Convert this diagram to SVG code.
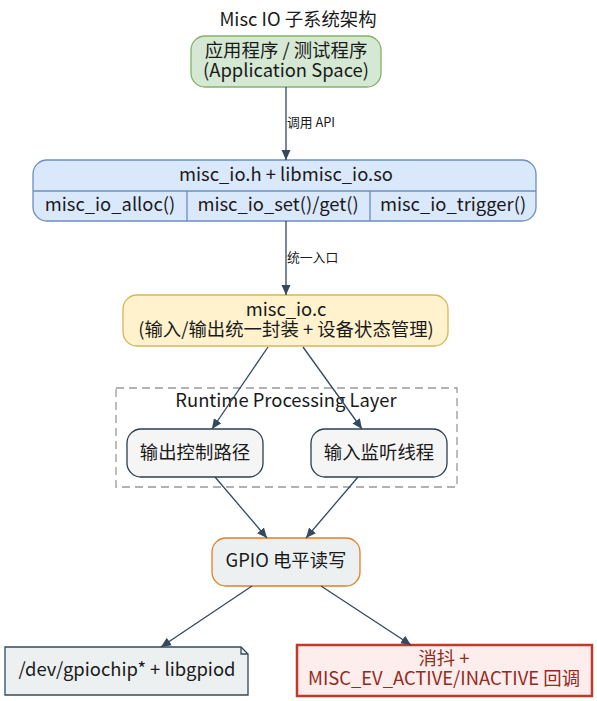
<svg xmlns="http://www.w3.org/2000/svg" width="597" height="701" viewBox="0 0 597 701">
<defs>
<marker id="arr" markerWidth="10" markerHeight="10" refX="10" refY="5" orient="auto" markerUnits="userSpaceOnUse">
<path d="M0,0.5 L10,5 L0,9.5 Z" fill="#34495e"/>
</marker>
<style>
text{font-family:"Noto Sans CJK SC","Noto Sans",sans-serif;text-anchor:middle;fill:#1a1a1a;font-size:18.4px}
.lbl{font-size:12.8px;text-anchor:start}
.red{fill:#922b21}
.edge{stroke:#34495e;stroke-width:1.3;fill:none;marker-end:url(#arr)}
</style>
</defs>
<rect width="597" height="701" fill="#ffffff"/>
<text x="298" y="26">Misc IO 子系统架构</text>

<g id="cluster-runtime">
<rect x="116" y="388" width="341" height="99" fill="none" stroke="#999999" stroke-width="1.3" stroke-dasharray="8,5"/>
<text x="286" y="407">Runtime Processing Layer</text>
</g>

<g id="node-app">
<rect x="191" y="36" width="190" height="51" rx="14" fill="#d5e8d4" stroke="#82b366" stroke-width="1.3"/>
<text x="286" y="57">应用程序 / 测试程序<tspan x="286" dy="20">(Application Space)</tspan></text>
</g>

<g id="node-api">
<rect x="33" y="160" width="503" height="61" rx="14" fill="#dae8fc" stroke="#6c8ebf" stroke-width="1.3"/>
<path d="M33,191 H536 M187,191 V221 M370,191 V221" stroke="#6c8ebf" stroke-width="1.3" fill="none"/>
<text x="286" y="181">misc_io.h + libmisc_io.so</text>
<text x="110" y="211">misc_io_alloc()</text>
<text x="278" y="211">misc_io_set()/get()</text>
<text x="453" y="211">misc_io_trigger()</text>
</g>

<g id="node-core">
<rect x="123" y="295" width="325" height="51" rx="14" fill="#fff2cc" stroke="#d6b656" stroke-width="1.3"/>
<text x="286" y="316">misc_io.c<tspan x="286" dy="20">(输入/输出统一封装 + 设备状态管理)</tspan></text>
</g>

<g id="node-output">
<rect x="127" y="429" width="136" height="48" rx="14" fill="#f5f5f5" stroke="#2c3e50" stroke-width="1.3"/>
<text x="195" y="459">输出控制路径</text>
</g>

<g id="node-input">
<rect x="311" y="429" width="136" height="48" rx="14" fill="#f5f5f5" stroke="#2c3e50" stroke-width="1.3"/>
<text x="379" y="459">输入监听线程</text>
</g>

<g id="node-gpio">
<rect x="212" y="538" width="148" height="48" rx="14" fill="#ecf0f1" stroke="#e67e22" stroke-width="1.3"/>
<text x="286" y="567">GPIO 电平读写</text>
</g>

<g id="node-dev">
<path d="M5,647 H241 L248,654 V695 H5 Z" fill="#ecf0f1" stroke="#34495e" stroke-width="1.3"/>
<path d="M241,647 V654 H248" fill="none" stroke="#34495e" stroke-width="1.3"/>
<text x="127" y="676">/dev/gpiochip* + libgpiod</text>
</g>

<g id="node-callback">
<rect x="297" y="645" width="295" height="51" fill="#fdedec" stroke="#c0392b" stroke-width="2.5"/>
<text class="red" x="444" y="665">消抖 +<tspan x="444" dy="20">MISC_EV_ACTIVE/INACTIVE 回调</tspan></text>
</g>

<g id="connectors">
<path class="edge" d="M286,87 V160"/>
<text class="lbl" x="287" y="127">调用 API</text>
<path class="edge" d="M286,221 V295"/>
<text class="lbl" x="287" y="262">统一入口</text>
<path class="edge" d="M268,347 L212,429"/>
<path class="edge" d="M303,347 L362,429"/>
<path class="edge" d="M215,477 L267,538"/>
<path class="edge" d="M358,477 L306,538"/>
<path class="edge" d="M252,586 L161,647"/>
<path class="edge" d="M321,586 L411,645"/>
</g>
</svg>
